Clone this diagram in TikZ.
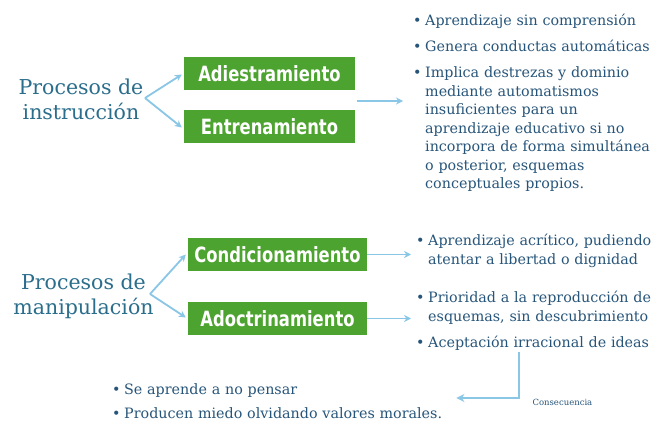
\documentclass[tikz,border=0pt]{standalone}
\usepackage{fontspec}
\usetikzlibrary{arrows.meta}
\newfontfamily\serifdv{DejaVu Serif}
\newfontfamily\boxfont[FakeStretch=0.78]{DejaVu Sans}
\definecolor{headc}{HTML}{2B6E8C}
\definecolor{listc}{HTML}{27557A}
\definecolor{boxg}{HTML}{4DA32F}
\definecolor{arrc}{HTML}{8AC6E6}
\newcommand{\li}[1]{\noindent\hangindent=12pt\hangafter=1\makebox[12pt][l]{\textbullet}#1\par}
\begin{document}
\begin{tikzpicture}[x=1pt,y=-1pt,
  head/.style={align=center,text=headc,inner sep=0pt,font=\serifdv\fontsize{20.5}{25}\selectfont},
  gbox/.style={fill=boxg,text=white,minimum height=33pt,inner sep=0pt,font=\boxfont\bfseries\fontsize{21}{24}\selectfont},
  lst/.style={text=listc,inner sep=0pt,align=left,font=\serifdv\fontsize{14.3}{18.5}\selectfont},
  arr/.style={draw=arrc,line width=1.8pt,-{Stealth[length=7pt,width=7pt]}},
  arrthick/.style={draw=arrc,line width=2.6pt,-{Stealth[length=8pt,width=8pt]}}]
\useasboundingbox (0,0) rectangle (658,425);
\fill[white] (0,0) rectangle (658,425);

% upper group
\node[head] (instr) at (81,99) {Procesos de\\instrucción};
\node[gbox,minimum width=171pt] (adi) at (269.5,73.5) {Adiestramiento};
\node[gbox,minimum width=171pt] (ent) at (269.5,126.5) {Entrenamiento};
\coordinate (f1) at (145,98);
\draw[arr] (f1) -- ([xshift=-2pt,yshift=-1pt]adi.west);
\draw[arr] (f1) -- ([xshift=-2pt,yshift=-1pt]ent.west);
\node[lst,text width=245pt,anchor=north west] (l1) at (413,14) {\parskip=7.5pt
\li{Aprendizaje sin comprensión}
\li{Genera conductas automáticas}
\li{Implica destrezas y dominio\newline mediante automatismos\newline insuficientes para un\newline aprendizaje educativo si no\newline incorpora de forma simultánea\newline o posterior, esquemas\newline conceptuales propios.}};
\coordinate (m1) at (357,101);
\draw[arr] (m1) -- (403,101);

% lower group
\node[head] (manip) at (83.5,296) {Procesos de\\manipulación};
\node[gbox,minimum width=179pt] (cond) at (277.5,254.5) {Condicionamiento};
\node[gbox,minimum width=179pt] (adoc) at (277.5,318.5) {Adoctrinamiento};
\coordinate (f2) at (150,294);
\draw[arr] (f2) -- ([xshift=-2pt]cond.west);
\draw[arr] (f2) -- ([xshift=-2pt,yshift=1pt]adoc.west);
\node[lst,text width=240pt,anchor=west] (l2) at (416,251) {\parskip=7.5pt
\li{Aprendizaje acrítico, pudiendo\newline atentar a libertad o dignidad}};
\node[lst,text width=240pt,anchor=west] (l3) at (416,321) {\parskip=7.5pt
\li{Prioridad a la reproducción de\newline esquemas, sin descubrimiento}
\li{Aceptación irracional de ideas}};
\draw[arr] (cond.east) -- ([xshift=-5pt]l2.west |- cond.east);
\draw[arr] (adoc.east) -- ([xshift=-5pt]l3.west |- adoc.east);

% consequences
\node[lst,text width=340pt,anchor=west] (l4) at (112,401) {\parskip=6pt
\li{Se aprende a no pensar}
\li{Producen miedo olvidando valores morales.}};
\coordinate (c1) at (519,352);
\draw[arrthick] (c1) |- ([xshift=4pt,yshift=3pt]l4.east);
\node[text=listc,font=\serifdv\fontsize{8.5}{10}\selectfont,anchor=west] (cons) at (529,402) {Consecuencia};
\end{tikzpicture}
\end{document}
